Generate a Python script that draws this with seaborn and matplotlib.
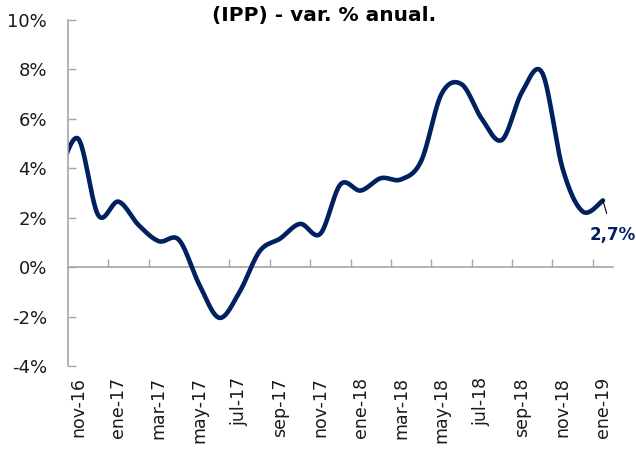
import numpy as np
import pandas as pd
import matplotlib
matplotlib.use("Agg")
import matplotlib.pyplot as plt
import seaborn as sns

# Datos: IPP, variación % anual (oct-16 solo sirve para el tramo inicial recortado)
meses = ['oct-16', 'nov-16', 'dic-16', 'ene-17', 'feb-17', 'mar-17', 'abr-17',
         'may-17', 'jun-17', 'jul-17', 'ago-17', 'sep-17', 'oct-17', 'nov-17',
         'dic-17', 'ene-18', 'feb-18', 'mar-18', 'abr-18', 'may-18', 'jun-18',
         'jul-18', 'ago-18', 'sep-18', 'oct-18', 'nov-18', 'dic-18', 'ene-19']
valores = [3.6, 5.2, 2.1, 2.65, 1.7, 1.05, 1.1,
           -0.7, -2.05, -1.0, 0.65, 1.15, 1.75, 1.35,
           3.35, 3.1, 3.6, 3.55, 4.3, 7.0, 7.4,
           6.0, 5.15, 7.1, 7.85, 4.0, 2.25, 2.7]
y_ticks = [-4, -2, 0, 2, 4, 6, 8, 10]

AZUL = '#002060'
GRIS = '#a6a6a6'
TEXTO = '#1a1a1a'


def suavizar(x, y, n=24):
    """Curva suavizada tipo Excel (Catmull-Rom uniforme)."""
    p = np.column_stack([x, y]).astype(float)
    p = np.vstack([p[0], p, p[-1]])
    t = np.linspace(0, 1, n, endpoint=False)[:, None]
    tramos = []
    for i in range(1, len(p) - 2):
        p0, p1, p2, p3 = p[i - 1], p[i], p[i + 1], p[i + 2]
        tramos.append(0.5 * (2 * p1 + (-p0 + p2) * t
                             + (2 * p0 - 5 * p1 + 4 * p2 - p3) * t ** 2
                             + (-p0 + 3 * p1 - 3 * p2 + p3) * t ** 3))
    tramos.append(p[-2][None, :])
    return np.vstack(tramos)


pos = np.arange(len(meses)) - 1
curva = suavizar(pos, valores)
df = pd.DataFrame({'x': curva[:, 0], 'y': curva[:, 1]})

sns.set_theme(style='white')
plt.rcParams['font.family'] = ['DejaVu Sans']

fig = plt.figure(figsize=(6.36, 4.49), dpi=100)
ax = fig.add_axes([68 / 636, 1 - 366 / 449, (613 - 68) / 636, (366 - 20) / 449])

sns.lineplot(data=df, x='x', y='y', ax=ax, color=AZUL, linewidth=3.3,
             sort=False, estimator=None)

ymin, ymax = y_ticks[0], y_ticks[-1]
ax.set_xlim(-0.5, pos[-1] + 0.5)
ax.set_ylim(ymin, ymax)
ax.set_xlabel('')
ax.set_ylabel('')

ax.set_yticks(y_ticks)
ax.set_yticklabels([f'{v}%' for v in y_ticks])
ax.set_xticks(pos[1::2])
ax.set_xticklabels(meses[1::2], rotation=90)
ax.tick_params(axis='y', direction='in', length=6, width=1, color=GRIS,
               labelsize=13, labelcolor=TEXTO, pad=15, left=True)
ax.tick_params(axis='x', length=0, labelsize=12.5, labelcolor=TEXTO, pad=8)

for lado in ['top', 'right', 'bottom']:
    ax.spines[lado].set_visible(False)
ax.spines['left'].set_color(GRIS)
ax.spines['left'].set_linewidth(1.2)

# eje de categorías a la altura del 0 %
eje0 = ax.secondary_xaxis((0 - ymin) / (ymax - ymin))
eje0.set_xticks(np.arange(pos[1] + 1.5, pos[-1] + 0.5, 2))
eje0.tick_params(direction='in', length=6, width=1, color=GRIS, labelbottom=False)
eje0.spines['bottom'].set_color(GRIS)
eje0.spines['bottom'].set_linewidth(1.2)

# etiqueta del último dato
ultimo = valores[-1]
ax.annotate(f'{ultimo:.1f}%'.replace('.', ','), xy=(pos[-1], ultimo),
            xytext=(pos[-1] + 0.5, ultimo - 1.4), ha='center', va='center',
            fontsize=12, fontweight='bold', color=AZUL,
            arrowprops=dict(arrowstyle='-', color='black', lw=0.8,
                            shrinkA=7, shrinkB=0))

fig.text(324 / 636, 1 - 15 / 449, '(IPP) - var. % anual.', ha='center',
         va='center', fontsize=14.5, fontweight='bold', color='black')

fig.savefig('out.png', dpi=100, facecolor='white')
